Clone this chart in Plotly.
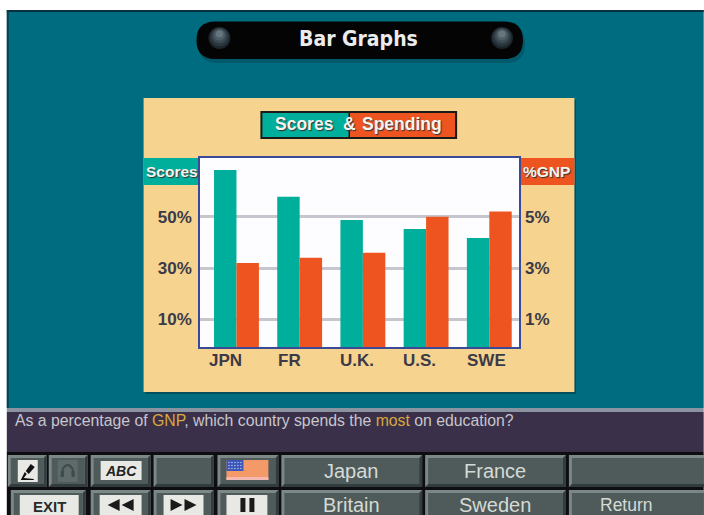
import plotly.graph_objects as go

# ---- data ----
countries = ["JPN", "FR", "U.K.", "U.S.", "SWE"]
scores = [68.2, 57.8, 48.7, 45.2, 41.7]
spending = [3.2, 3.4, 3.6, 5.0, 5.2]
score_ticks = [10, 30, 50]
score_labels = ["10%", "30%", "50%"]
gnp_ticks = [1, 3, 5]
gnp_labels = ["1%", "3%", "5%"]
label_shift = [-11, -10, -6, -7, -3]
top_buttons = ["Japan", "France"]
bottom_buttons = ["Britain", "Sweden", "Return"]

W, H = 704, 515
L, R, T, B = 199.5, 519.0, 158.0, 347.0
SANS = "Liberation Sans"
TEAL = "#00AE9C"
ORANGE = "#EE5420"
BG = "#006C80"
PANEL = "#F6D38E"
INK = "#3C3A48"


def px(x):
    return (x - L) / (R - L)


def py(y):
    return (B - y) / (B - T)


shapes = []
ann = []


def rect(x0, y0, x1, y1, fill, line=None, lw=0):
    shapes.append(dict(type="rect", xref="paper", yref="paper", layer="below",
                       x0=px(x0), x1=px(x1), y0=py(y0), y1=py(y1), fillcolor=fill,
                       line=dict(color=line or fill, width=lw)))


def poly(points, fill):
    d = "M" + "L".join(f"{px(a):.5f},{py(b):.5f}" for a, b in points) + "Z"
    shapes.append(dict(type="path", xref="paper", yref="paper", layer="below", path=d,
                       fillcolor=fill, line=dict(width=0)))


def circle(cx, cy, r, fill):
    shapes.append(dict(type="circle", xref="paper", yref="paper", layer="below",
                       x0=px(cx - r), x1=px(cx + r), y0=py(cy + r), y1=py(cy - r),
                       fillcolor=fill, line=dict(width=0)))


def text(x, y, s, size, color, bold=False, family=SANS, anchor="center", shadow=None, italic=False):
    font = dict(family=family, size=size, color=color,
                weight="bold" if bold else "normal",
                style="italic" if italic else "normal")
    if shadow:
        font["shadow"] = shadow
    ann.append(dict(xref="paper", yref="paper", x=px(x), y=py(y), text=s, showarrow=False,
                    xanchor=anchor, yanchor="middle", font=font))


def button(x0, y0, x1, y1):
    rect(x0, y0, x1, y1, "#7C8886")
    poly([(x1, y0), (x1, y1), (x0, y1), (x0 + 3, y1 - 3), (x1 - 3, y1 - 3), (x1 - 3, y0 + 3)], "#333C3C")
    rect(x0 + 3, y0 + 3, x1 - 3, y1 - 3, "#4E5B5A")


# ---- screen background ----
rect(0, 0, W, H, "#FFFFFF")
rect(6, 10, W, 408, BG)
rect(6, 10, W, 12, "#08303F")
rect(6, 10, 8, 408, "#08404F")
rect(6, 408, W, 412, "#8C93A0")
rect(6, 412, W, 452, "#3B3049")
rect(6, 452, W, H, "#0E0E12")

# ---- title pill ----
for dx, dy, col in [(2, 4, "#005A6B"), (0, 0, "#040404")]:
    x0, x1, y0, y1 = 196 + dx, 523 + dx, 21.5 + dy, 59 + dy
    rr = (y1 - y0) / 2
    d = (f"M{px(x0 + rr):.5f},{py(y0):.5f} L{px(x1 - rr):.5f},{py(y0):.5f} "
         f"Q{px(x1):.5f},{py(y0):.5f} {px(x1):.5f},{py(y0 + rr):.5f} "
         f"Q{px(x1):.5f},{py(y1):.5f} {px(x1 - rr):.5f},{py(y1):.5f} "
         f"L{px(x0 + rr):.5f},{py(y1):.5f} "
         f"Q{px(x0):.5f},{py(y1):.5f} {px(x0):.5f},{py(y0 + rr):.5f} "
         f"Q{px(x0):.5f},{py(y0):.5f} {px(x0 + rr):.5f},{py(y0):.5f} Z")
    shapes.append(dict(type="path", xref="paper", yref="paper", layer="below", path=d,
                       fillcolor=col, line=dict(width=0)))
for cx in (219, 502):
    for r, off, col in [(11, 0, "#1C252B"), (9.5, 1, "#2B373E"), (7.5, 2, "#3C4A52"),
                        (5.5, 3, "#505F67"), (3.5, 4, "#66767D")]:
        circle(cx, 38 - off, r, col)
text(358, 39, "Bar Graphs", 21, "#ECECEC", bold=True, family="DejaVu Sans Condensed, Liberation Sans")

# ---- chart panel ----
rect(145, 100, 576, 394, "#004E5C")
rect(143, 98, 574.5, 392, PANEL)
rect(L, T, R, B, "#FDFDFF")
rect(143, T, L, 185, TEAL)
rect(R, T, 574.5, 185, ORANGE)
rect(261, 112, 349, 138, TEAL)
rect(349, 112, 456, 138, ORANGE)
shapes.append(dict(type="rect", xref="paper", yref="paper", layer="below", x0=px(261), x1=px(456),
                   y0=py(138), y1=py(112), line=dict(color="#1A1A1A", width=2)))
shapes.append(dict(type="line", xref="paper", yref="paper", layer="below", x0=px(349), x1=px(349),
                   y0=py(138), y1=py(112), line=dict(color="#1A1A1A", width=1.5)))
SH = "1px 1px 1px #333333"
text(304, 124, "Scores", 17.5, "#F4F4F0", bold=True, shadow=SH)
text(349, 124, "&", 17.5, "#F4F4F0", bold=True, shadow=SH)
text(401.5, 124, "Spending", 17.5, "#F4F4F0", bold=True, shadow=SH)
text(171, 171, "Scores", 15.5, "#F4F4F0", bold=True, shadow=SH)
text(547, 171, "%GNP", 15.5, "#F4F4F0", bold=True, shadow=SH)

# ---- country labels, tied to the category axis ----
for name, shift in zip(countries, label_shift):
    ann.append(dict(xref="x", yref="paper", x=name, y=py(360), xshift=shift, text=name,
                    showarrow=False, xanchor="center", yanchor="middle",
                    font=dict(family=SANS, size=17, color=INK, weight="bold")))

# ---- bottom control panel ----
text(12, 420, 'As a percentage of <span style="color:#D9A83C">GNP</span>, which country spends the '
     '<span style="color:#D9A83C">most</span> on education?',
     15.8, "#C6C6CC", anchor="left")

row1 = (455, 487)
row2 = (490, 518)
for x0, x1 in [(7, 46), (48, 87), (90, 150), (153, 213), (217, 278), (281, 422), (425, 566), (569, 707)]:
    button(x0, row1[0], x1, row1[1])
for x0, x1 in [(10, 85), (90, 150), (153, 213), (217, 278), (281, 422), (425, 566), (569, 707)]:
    button(x0, row2[0], x1, row2[1])

# mic icon
rect(17, 460, 37, 482, "#E8E8E4")
poly([(30, 464), (34, 467), (28, 474), (25, 471)], "#111111")
poly([(24, 472), (26, 474), (23, 478), (33, 479), (33, 480), (20, 480)], "#111111")
# headphone icon
rect(57, 460, 77, 482, "#5F6B6A")
shapes.append(dict(type="path", xref="paper", yref="paper", layer="below",
                   path=f"M{px(62)},{py(476)} L{px(62)},{py(469)} Q{px(67)},{py(461)} {px(72)},{py(469)} L{px(72)},{py(476)}",
                   line=dict(color="#3F4A4A", width=2)))
rect(60, 471, 63, 477, "#3F4A4A")
rect(71, 471, 74, 477, "#3F4A4A")
# ABC
rect(100, 461, 141, 480, "#E8E8E4")
text(120.5, 471, "ABC", 14, "#222222", bold=True, italic=True)
# flag
rect(226, 460, 268, 480, "#F49A68")
rect(226, 477, 268, 480, "#F4B8B0")
rect(226, 460, 243, 471, "#3A55B8")
for i in range(5):
    for j in range(3):
        circle(228.5 + i * 3, 462.5 + j * 3, 0.7, "#C8D0F0")
# lower row icons
rect(19, 495, 78, 515, "#E8E8E4")
text(48.5, 506, "EXIT", 15, "#2A2A2A", bold=True)
rect(99, 495, 141, 515, "#E8E8E4")
poly([(119, 499), (119, 511), (107, 505)], "#1A1A1A")
poly([(133, 499), (133, 511), (121, 505)], "#1A1A1A")
rect(163, 495, 203, 515, "#E8E8E4")
poly([(170, 499), (170, 511), (182, 505)], "#1A1A1A")
poly([(184, 499), (184, 511), (196, 505)], "#1A1A1A")
rect(226, 495, 267, 515, "#E8E8E4")
rect(240, 498, 245, 512, "#1A1A1A")
rect(249, 498, 254, 512, "#1A1A1A")

for (name, cx) in zip(top_buttons, (351, 495)):
    text(cx, 471, name, 20, "#D6DAD6")
for (name, cx, size) in zip(bottom_buttons, (351, 495, 627), (20, 20, 17.5)):
    text(cx, 505, name, size, "#D6DAD6")

# ---- chart ----
ymin, ymax = -0.8, 72.9
fig = go.Figure()
fig.add_bar(x=countries, y=[v - ymin for v in scores], base=ymin, width=0.355, offset=-0.355,
            marker=dict(color=TEAL, line=dict(width=0)), yaxis="y", showlegend=False)
fig.add_bar(x=countries, y=[v - ymin / 10 for v in spending], base=ymin / 10, width=0.355, offset=0,
            marker=dict(color=ORANGE, line=dict(width=0)), yaxis="y2", showlegend=False)

tickfont = dict(family=SANS, size=17, color=INK, weight="bold")
frame = dict(showline=True, linecolor="#3A4A96", linewidth=1.5, mirror=True)
fig.update_layout(
    width=W, height=H,
    margin=dict(l=L, r=W - R, t=T, b=H - B, pad=0),
    paper_bgcolor="#FFFFFF", plot_bgcolor="rgba(0,0,0,0)",
    barmode="overlay",
    xaxis=dict(type="category", categoryorder="array", categoryarray=countries,
               range=[-0.577, 4.47], showticklabels=False, ticks="", showgrid=False, **frame),
    yaxis=dict(range=[ymin, ymax], tickvals=score_ticks, ticktext=score_labels, tickfont=tickfont,
               showgrid=True, gridcolor="#C6C6CE", gridwidth=2.5, zeroline=False, ticks="",
               ticklabelstandoff=3, **frame),
    yaxis2=dict(range=[ymin / 10, ymax / 10], tickvals=gnp_ticks, ticktext=gnp_labels, tickfont=tickfont,
                overlaying="y", side="right", showgrid=False, zeroline=False, ticks="",
                ticklabelstandoff=5, showline=False),
    shapes=shapes, annotations=ann,
    font=dict(family=SANS),
)
fig.write_html("out.html",
               post_script="document.body.style.margin='0';document.documentElement.style.overflow='hidden';",
               config=dict(displayModeBar=False))
